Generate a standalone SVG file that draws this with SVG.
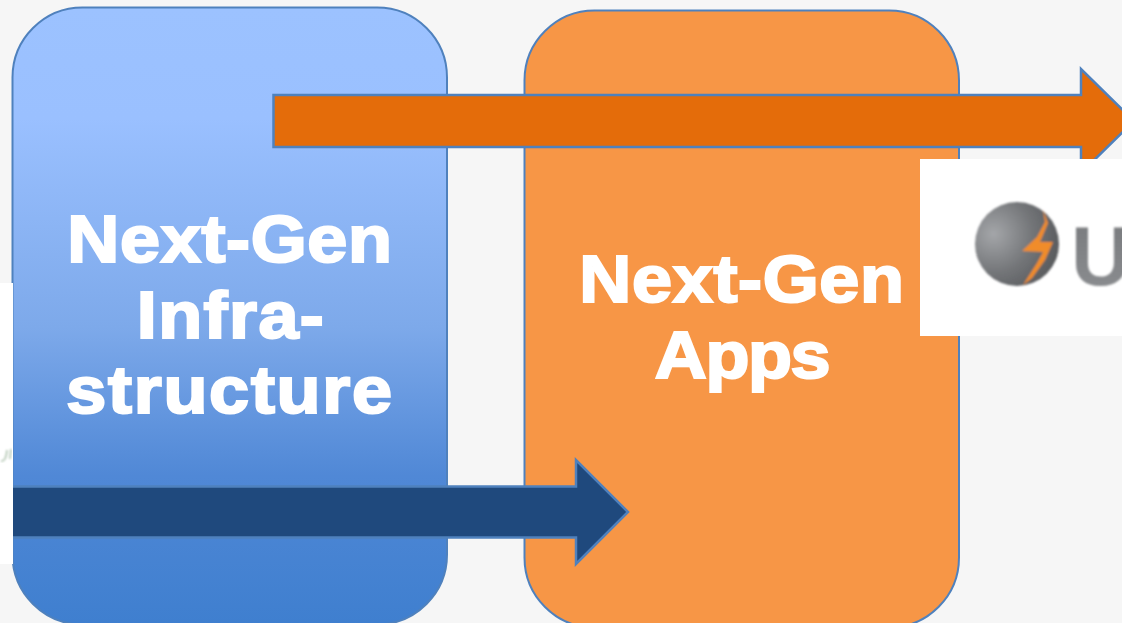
<svg xmlns="http://www.w3.org/2000/svg" width="1122" height="623" viewBox="0 0 1122 623">
<style>
.box{stroke:#4F81BD;stroke-width:2}
.arrow{stroke:#4F81BD;stroke-width:2.5}
.label{font-family:"Liberation Sans",Arial,sans-serif;font-weight:700;font-size:67px;fill:#fff;stroke:#fff;stroke-width:2.200;text-anchor:middle}
</style>
<defs>
<linearGradient id="blueGrad" gradientUnits="userSpaceOnUse" x1="0" y1="7" x2="0" y2="624">
<stop offset="0" stop-color="#9CC2FF"/>
<stop offset="0.18" stop-color="#9AC0FF"/>
<stop offset="0.52" stop-color="#7DA9EA"/>
<stop offset="0.76" stop-color="#5088D6"/>
<stop offset="1" stop-color="#3F7FCF"/>
</linearGradient>
<radialGradient id="sphere" cx="0.22" cy="0.38" r="0.85">
<stop offset="0" stop-color="#A4A6A9"/>
<stop offset="0.55" stop-color="#737578"/>
<stop offset="1" stop-color="#55575A"/>
</radialGradient>
<linearGradient id="uGrad" x1="0" y1="0" x2="0" y2="1">
<stop offset="0" stop-color="#77797C"/>
<stop offset="1" stop-color="#8D8F92"/>
</linearGradient>
<filter id="soft" x="-10%" y="-10%" width="120%" height="120%"><feGaussianBlur stdDeviation="0.8"/></filter>
</defs>
<rect width="1122" height="623" fill="#F6F6F6"/>
<g id="node-infrastructure">
<rect class="box" x="12.500" y="7.500" width="434.500" height="617" rx="70" ry="70" fill="url(#blueGrad)"/>
<text class="label" letter-spacing="0.600" transform="translate(230 262) scale(1.075 1)">Next-Gen</text>
<text class="label" letter-spacing="1.300" transform="translate(231 338) scale(1.075 1)">Infra-</text>
<text class="label" letter-spacing="1.600" transform="translate(230 413) scale(1.075 1)">structure</text>
</g>
<g id="node-apps">
<rect class="box" x="524.500" y="10.500" width="434.500" height="617" rx="70" ry="70" fill="#F79646"/>
<text class="label" letter-spacing="0.600" transform="translate(742 302) scale(1.075 1)">Next-Gen</text>
<text class="label" letter-spacing="-1.300" transform="translate(742 378) scale(1.075 1)">Apps</text>
</g>
<g id="connectors">
<polygon class="arrow" fill="#E46C0A" points="273.500,95 1081,95 1081,69 1134,121 1081,173 1081,147 273.500,147"/>
<polygon class="arrow" fill="#1F497D" points="5,486.500 576,486.500 576,460 628,512 576,564 576,537.500 5,537.500"/>
</g>
<g id="logo-right">
<rect x="920" y="159" width="202" height="177" fill="#fff"/>
<g filter="url(#soft)">
<circle cx="1017" cy="244" r="42" fill="url(#sphere)"/>
<path d="M1043 210 L1048 223 L1040 242 L1053 242 L1045 260 L1032 278 L1023 285 L1037 263 L1043 252 L1022 251 L1037 237 L1045 222Z" fill="#F08C2A"/>
<text x="1071" y="285" font-family="'Liberation Sans',Arial,sans-serif" font-weight="700" font-size="83" fill="url(#uGrad)">U</text>
</g>
</g>
<g id="logo-left">
<rect x="0" y="283" width="13" height="281" fill="#fff"/>
<path d="M1 461 Q6 462 7 450 M10 459 L11 449" fill="none" stroke="#A9BFA9" stroke-width="1.500" filter="url(#soft)"/>
</g>
</svg>
